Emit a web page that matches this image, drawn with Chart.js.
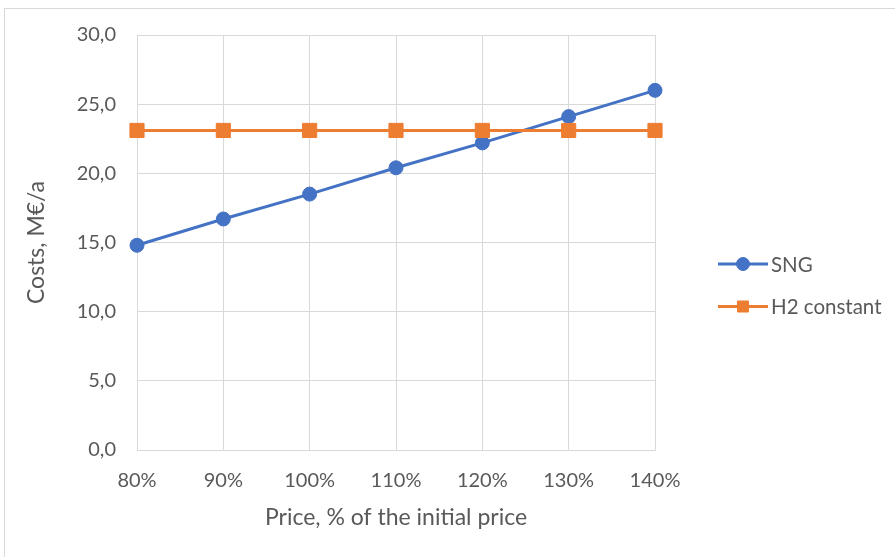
<!DOCTYPE html>
<html>
<head>
<meta charset="utf-8">
<script src="https://cdn.jsdelivr.net/npm/chart.js@4/dist/chart.umd.min.js"></script>
<style>
  html, body { margin: 0; padding: 0; background: #fff; overflow: hidden; }
  #wrap { position: relative; width: 895px; height: 557px; overflow: hidden; background: #fff; }
  #wrap canvas { position: absolute; left: 0; top: 0; }
  #frame { position: absolute; left: 4px; top: 8px; width: 1000px; height: 1000px;
           border: 1px solid #d9d9d9; pointer-events: none; }
</style>
</head>
<body>
<div id="wrap">
  <canvas id="chart" width="895" height="557"></canvas>
  <div id="frame"></div>
</div>
<script>
// Price scenarios (share of the initial price)
const categories = ['80%', '90%', '100%', '110%', '120%', '130%', '140%'];
// Annual costs, M€/a
const sngCosts = [14.8, 16.7, 18.5, 20.4, 22.2, 24.1, 26.0];
const h2Costs = [23.1, 23.1, 23.1, 23.1, 23.1, 23.1, 23.1];
// Value axis range
const yMin = 0;
const yMax = 30;
const yStep = 5;

const FONT = 'Lato, "Liberation Sans", sans-serif';
const TEXT = '#595959';
const GRID = '#d9d9d9';
const BLUE = '#4472C4';
const ORANGE = '#ED7D31';

// Legend at the right: a line segment with the series marker, then its name
const sideLegend = {
  id: 'sideLegend',
  afterDraw(chart, args, opts) {
    const ctx = chart.ctx;
    chart.data.datasets.forEach((ds, i) => {
      const x = opts.left;
      const y = opts.top + i * opts.spacing;
      ctx.save();
      ctx.strokeStyle = ds.borderColor;
      ctx.lineWidth = ds.borderWidth;
      ctx.beginPath();
      ctx.moveTo(x, y);
      ctx.lineTo(x + opts.lineLength, y);
      ctx.stroke();
      ctx.fillStyle = ds.pointBackgroundColor;
      ctx.strokeStyle = ds.pointBorderColor;
      ctx.lineWidth = 1;
      Chart.helpers.drawPoint(ctx, {
        pointStyle: ds.pointStyle,
        radius: opts.markerRadius[i],
        rotation: 0,
        borderWidth: 1
      }, x + opts.lineLength / 2, y);
      ctx.fillStyle = TEXT;
      ctx.font = opts.fontSize + 'px ' + FONT;
      ctx.textAlign = 'left';
      ctx.textBaseline = 'middle';
      ctx.fillText(ds.label, x + opts.lineLength + opts.gap, y + 1);
      ctx.restore();
    });
  }
};

new Chart(document.getElementById('chart'), {
  type: 'line',
  data: {
    labels: categories,
    datasets: [
      {
        label: 'SNG',
        data: sngCosts,
        borderColor: BLUE,
        backgroundColor: BLUE,
        pointBackgroundColor: BLUE,
        pointBorderColor: BLUE,
        borderWidth: 3,
        pointStyle: 'circle',
        pointRadius: 7,
        pointBorderWidth: 1,
        tension: 0,
        order: 1
      },
      {
        label: 'H2 constant',
        data: h2Costs,
        borderColor: ORANGE,
        backgroundColor: ORANGE,
        pointBackgroundColor: ORANGE,
        pointBorderColor: ORANGE,
        borderWidth: 3,
        pointStyle: 'rect',
        pointRadius: 10,
        pointBorderWidth: 1,
        tension: 0,
        order: 0
      }
    ]
  },
  options: {
    responsive: false,
    animation: false,
    events: [],
    layout: { padding: { left: 0, top: 35, right: 240, bottom: 0 } },
    plugins: {
      legend: { display: false },
      tooltip: { enabled: false },
      sideLegend: {
        left: 718,
        top: 264,
        spacing: 42.5,
        lineLength: 50,
        gap: 3,
        fontSize: 20.5,
        markerRadius: [6.5, 7.8]
      }
    },
    scales: {
      x: {
        offset: false,
        grid: { color: GRID, lineWidth: 1, drawTicks: false },
        border: { color: GRID, width: 1 },
        ticks: { color: TEXT, font: { family: FONT, size: 20 }, padding: 19, maxRotation: 0 },
        title: {
          display: true,
          text: 'Price, % of the initial price',
          color: TEXT,
          font: { family: FONT, size: 23 },
          padding: { top: 0, bottom: 26 }
        },
        afterFit(scale) { scale.height = 107; }
      },
      y: {
        min: yMin,
        max: yMax,
        grid: { color: GRID, lineWidth: 1, drawTicks: false },
        border: { display: false },
        ticks: {
          stepSize: yStep,
          color: TEXT,
          font: { family: FONT, size: 20 },
          padding: 21,
          callback: (v) => v.toFixed(1).replace('.', ',')
        },
        title: {
          display: true,
          text: 'Costs, M€/a',
          color: TEXT,
          font: { family: FONT, size: 23 },
          padding: { top: 23, bottom: 0 }
        },
        afterFit(scale) { scale.width = 137; }
      }
    }
  },
  plugins: [sideLegend]
});
</script>
</body>
</html>
